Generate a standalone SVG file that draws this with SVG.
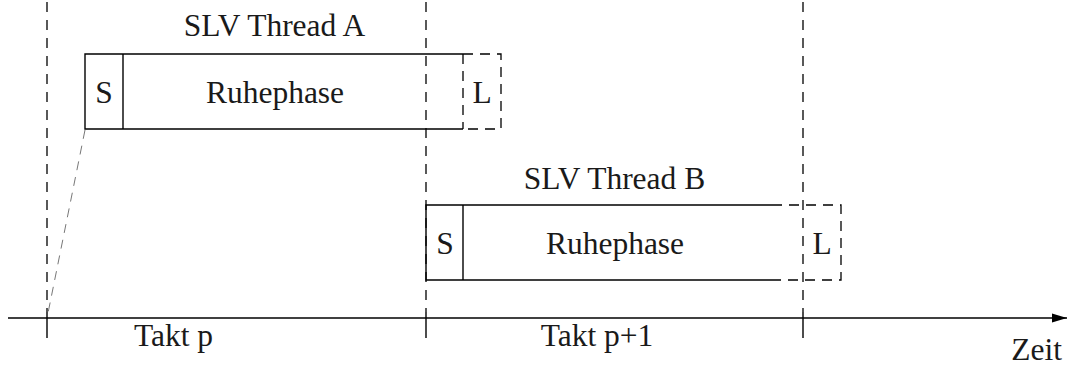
<svg xmlns="http://www.w3.org/2000/svg" width="1068" height="367" viewBox="0 0 1068 367">
  <style>
    .solid { stroke: #000; stroke-width: 1.4; fill: none; }
    .dash { stroke: #000; stroke-width: 1.3; fill: none; stroke-dasharray: 10 7; }
    .grid { stroke: #000; stroke-width: 1.3; fill: none; stroke-dasharray: 10 8; }
    .guide { stroke: #777; stroke-width: 1; fill: none; stroke-dasharray: 9 7; }
    .lbl { font-size: 31.5px; fill: #1a1a1a; text-anchor: middle; }
  </style>
  <defs>
    <marker id="arrow" markerWidth="15" markerHeight="10" refX="15" refY="5" orient="auto" markerUnits="userSpaceOnUse">
      <path d="M0,0.5 L15,5 L0,9.5 Z" fill="#000"/>
    </marker>
  </defs>

  <!-- time axis, clock boundaries and guides -->
  <g id="connectors">
    <line class="grid" x1="47" y1="2" x2="47" y2="312"/>
    <line class="grid" x1="426" y1="2" x2="426" y2="312"/>
    <line class="grid" x1="803" y1="2" x2="803" y2="312"/>
    <line class="solid" x1="47" y1="312" x2="47" y2="338"/>
    <line class="solid" x1="426" y1="312" x2="426" y2="338"/>
    <line class="solid" x1="803" y1="312" x2="803" y2="338"/>
    <line class="solid" x1="8" y1="318" x2="1067" y2="318" marker-end="url(#arrow)"/>
    <line class="guide" x1="85" y1="130" x2="47" y2="318"/>
  </g>

  <g font-family="'Liberation Serif', 'Times New Roman', 'DejaVu Serif', serif">
    <!-- thread A -->
    <g id="threadA">
      <text class="lbl" x="274.5" y="36">SLV Thread A</text>
      <path class="solid" d="M463,54 H85 V129 H463"/>
      <line class="solid" x1="123" y1="54" x2="123" y2="129"/>
      <line class="dash" x1="463" y1="54" x2="463" y2="129"/>
      <path class="dash" d="M463,54 H501 V129 H463"/>
      <text class="lbl" x="104" y="103">S</text>
      <text class="lbl" x="275" y="103">Ruhephase</text>
      <text class="lbl" x="482" y="103">L</text>
    </g>

    <!-- thread B -->
    <g id="threadB">
      <text class="lbl" x="614.5" y="189">SLV Thread B</text>
      <path class="solid" d="M772,205 H426 V280 H772"/>
      <line class="solid" x1="463" y1="205" x2="463" y2="280"/>
      <path class="dash" d="M772,205 H841 V280 H772"/>
      <text class="lbl" x="445" y="254">S</text>
      <text class="lbl" x="615" y="254">Ruhephase</text>
      <text class="lbl" x="822" y="254">L</text>
    </g>

    <!-- axis labels -->
    <g id="labels">
      <text class="lbl" x="173.5" y="346">Takt p</text>
      <text class="lbl" x="597" y="346">Takt p+1</text>
      <text class="lbl" x="1062" y="360" text-anchor="end" style="text-anchor:end">Zeit</text>
    </g>
  </g>
</svg>
